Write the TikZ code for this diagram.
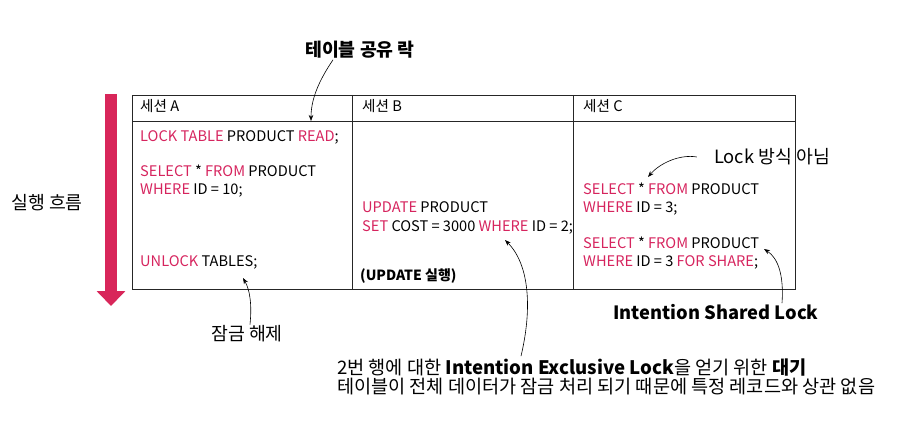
\documentclass[tikz,border=0pt]{standalone}
\usepackage{fontspec}
\setmainfont{Noto Sans CJK KR}
\usetikzlibrary{arrows.meta,positioning}
\definecolor{KeyPink}{RGB}{214,36,94}
\definecolor{FlowRed}{RGB}{216,38,90}
\newcommand{\kw}[1]{\textcolor{KeyPink}{#1}}
\tikzset{
  sqltext/.style={anchor=base west,inner sep=0pt,font=\fontsize{14.6}{17}\selectfont},
  headtext/.style={anchor=base west,inner sep=0pt,font=\fontsize{14.6}{17}\selectfont},
  note/.style={inner sep=1pt,font=\fontsize{18.3}{20}\selectfont},
  notebold/.style={inner sep=1pt,font=\fontsize{18.3}{20}\selectfont\bfseries},
  callout/.style={-{Stealth[length=6pt,width=4.5pt]},black,line width=0.6pt},
  gridline/.style={draw=black!85,line width=0.8pt},
  flow/.style={FlowRed,line width=12pt,-{Triangle[length=15pt,width=28pt]}},
}

\begin{document}
\begin{tikzpicture}[x=1pt,y=1pt]
    \useasboundingbox (0,0) rectangle (919,-441);
    % table
    \coordinate (tl) at (132,-95);
    \coordinate (br) at (795,-289);
    \draw[gridline] (tl) rectangle (br);
    \draw[gridline] (132,-121) -- (795,-121);
    \draw[gridline] (352,-95) -- (352,-289);
    \draw[gridline] (573,-95) -- (573,-289);
    % headers
    \node[headtext] (hA) at (140,-112) {세션 A};
    \node[headtext] (hB) at (362,-112) {세션 B};
    \node[headtext] (hC) at (583,-112) {세션 C};
    % session A
    \node[sqltext] (a1) at (140,-142) {\kw{LOCK TABLE} PRODUCT \kw{READ};};
    \node[sqltext] (a2) at (140,-177) {\kw{SELECT} * \kw{FROM} PRODUCT};
    \node[sqltext] (a3) at (140,-195) {\kw{WHERE} ID = 10;};
    \node[sqltext] (a4) at (140,-266) {\kw{UNLOCK} TABLES;};
    % session B
    \node[sqltext] (b1) at (362,-213) {\kw{UPDATE} PRODUCT};
    \node[sqltext] (b2) at (362,-231) {\kw{SET} COST = 3000 \kw{WHERE} ID = 2;};
    \node[sqltext,font=\fontsize{14}{17}\selectfont\bfseries] (b3) at (360,-280) {(UPDATE 실행)};
    % session C
    \node[sqltext] (c1) at (583,-195) {\kw{SELECT} * \kw{FROM} PRODUCT};
    \node[sqltext] (c2) at (583,-213) {\kw{WHERE} ID = 3;};
    \node[sqltext] (c3) at (583,-248) {\kw{SELECT} * \kw{FROM} PRODUCT};
    \node[sqltext] (c4) at (583,-266) {\kw{WHERE} ID = 3 \kw{FOR SHARE};};
    % flow arrow
    \coordinate (flowtop) at (111,-94);
    \coordinate (flowend) at (111,-306);
    \draw[flow] (flowtop) -- (flowend);
    \node[note] (flowlbl) at (47,-203) {실행 흐름};
    % notes
    \node[notebold] (shareT) at (360,-50) {테이블 공유 락};
    \node[note] (unlockT) at (247,-334) {잠금 해제};
    \node[note] (notLock) at (772,-157) {Lock 방식 아님};
    \node[notebold] (isLock) at (716,-312) {Intention Shared Lock};
    \node[note,anchor=base west,inner sep=0pt,font=\fontsize{18.6}{20}\selectfont] (ixNote1) at (337,-374)
      {2번 행에 대한 \textbf{Intention Exclusive Lock}을 얻기 위한 \textbf{대기}};
    \node[note,anchor=base west,inner sep=0pt,font=\fontsize{18.6}{20}\selectfont] (ixNote2) at (337,-393)
      {테이블이 전체 데이터가 잠금 처리 되기 때문에 특정 레코드와 상관 없음};
    % callouts
    \coordinate (readTip) at (311,-121);
    \coordinate (unlockTip) at (243,-278);
    \coordinate (ixTip) at (505,-240);
    \coordinate (isTip) at (764,-249);
    \coordinate (selTip) at (648,-177);
    \draw[callout] ([xshift=-27pt]shareT.south) .. controls (318,-82) and (311,-100) .. (readTip);
    \draw[callout] ([xshift=3pt]unlockT.north) .. controls (252,-305) and (250,-290) .. (unlockTip);
    \draw[callout] ([xshift=184pt,yshift=2pt]ixNote1.north west) .. controls (532,-310) and (530,-265) .. (ixTip);
    \draw[callout] ([xshift=66pt]isLock.north) .. controls (784,-275) and (778,-258) .. (isTip);
    \draw[callout] ([xshift=-16pt]notLock.west) .. controls (680,-154) and (660,-163) .. (selTip);
\end{tikzpicture}
\end{document}
